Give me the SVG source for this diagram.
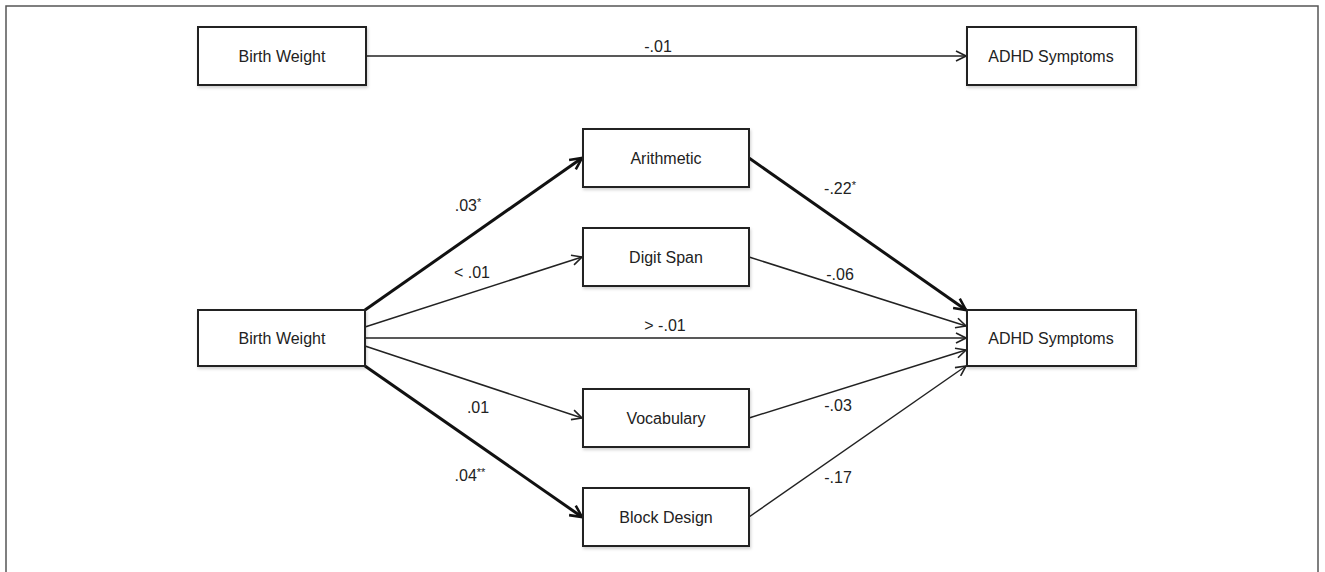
<svg xmlns="http://www.w3.org/2000/svg" width="1325" height="572" viewBox="0 0 1325 572">
<defs>
<marker id="ah" viewBox="0 0 12 12" refX="11" refY="6" markerWidth="12" markerHeight="12" markerUnits="userSpaceOnUse" orient="auto">
<path d="M1,1 L11,6 L1,11" fill="none" stroke="#222" stroke-width="1.6"/>
</marker>
<marker id="ahb" viewBox="0 0 12 12" refX="11" refY="6" markerWidth="14" markerHeight="14" markerUnits="userSpaceOnUse" orient="auto">
<path d="M1,1 L11,6 L1,11" fill="none" stroke="#111" stroke-width="2.2"/>
</marker>
<filter id="sh" x="-10%" y="-10%" width="130%" height="140%">
<feDropShadow dx="1" dy="2" stdDeviation="1.5" flood-color="#000" flood-opacity="0.18"/>
</filter>
</defs>
<style>
.box{fill:#fff;stroke:#222;stroke-width:2;filter:url(#sh)}
.t{font-family:"Liberation Sans",Arial,sans-serif;font-size:16px;fill:#222;text-anchor:middle;dominant-baseline:central}
.l{font-family:"Liberation Sans",Arial,sans-serif;font-size:16px;fill:#222;text-anchor:middle}
.thin{fill:none;stroke:#222;stroke-width:1.5;marker-end:url(#ah)}
.bold{fill:none;stroke:#111;stroke-width:3;marker-end:url(#ahb)}
.sup{font-size:11px}
</style>
<rect x="6" y="6" width="1312" height="600" fill="#fff" stroke="#555" stroke-width="1.5"/>
<g id="connectors">
<line class="thin" x1="366" y1="56" x2="966" y2="56"/>
<line class="bold" x1="365" y1="310" x2="582" y2="158"/>
<line class="thin" x1="365" y1="327" x2="582" y2="257"/>
<line class="thin" x1="365" y1="338" x2="966" y2="338"/>
<line class="thin" x1="365" y1="346" x2="582" y2="418"/>
<line class="bold" x1="365" y1="366" x2="582" y2="517"/>
<line class="bold" x1="749" y1="158" x2="966" y2="310"/>
<line class="thin" x1="749" y1="257" x2="966" y2="326"/>
<line class="thin" x1="749" y1="418" x2="966" y2="350"/>
<line class="thin" x1="749" y1="517" x2="966" y2="366"/>
</g>
<g id="labels">
<text class="l" x="658" y="52">-.01</text>
<text class="l" x="468" y="211">.03<tspan class="sup" dy="-5">*</tspan></text>
<text class="l" x="472" y="278">&lt; .01</text>
<text class="l" x="665" y="331">&gt; -.01</text>
<text class="l" x="478" y="413">.01</text>
<text class="l" x="470" y="481">.04<tspan class="sup" dy="-5">**</tspan></text>
<text class="l" x="840" y="194">-.22<tspan class="sup" dy="-5">*</tspan></text>
<text class="l" x="840" y="280">-.06</text>
<text class="l" x="838" y="411">-.03</text>
<text class="l" x="838" y="483">-.17</text>
</g>
<g id="bw-top"><rect class="box" x="198" y="27" width="168" height="58"/><text class="t" x="282" y="56">Birth Weight</text></g>
<g id="adhd-top"><rect class="box" x="967" y="27" width="169" height="58"/><text class="t" x="1051" y="56">ADHD Symptoms</text></g>
<g id="bw-main"><rect class="box" x="198" y="310" width="167" height="56"/><text class="t" x="282" y="338">Birth Weight</text></g>
<g id="adhd-main"><rect class="box" x="967" y="310" width="169" height="56"/><text class="t" x="1051" y="338">ADHD Symptoms</text></g>
<g id="arithmetic"><rect class="box" x="583" y="129" width="166" height="58"/><text class="t" x="666" y="158">Arithmetic</text></g>
<g id="digitspan"><rect class="box" x="583" y="228" width="166" height="58"/><text class="t" x="666" y="257">Digit Span</text></g>
<g id="vocabulary"><rect class="box" x="583" y="389" width="166" height="58"/><text class="t" x="666" y="418">Vocabulary</text></g>
<g id="blockdesign"><rect class="box" x="583" y="488" width="166" height="58"/><text class="t" x="666" y="517">Block Design</text></g>
</svg>
